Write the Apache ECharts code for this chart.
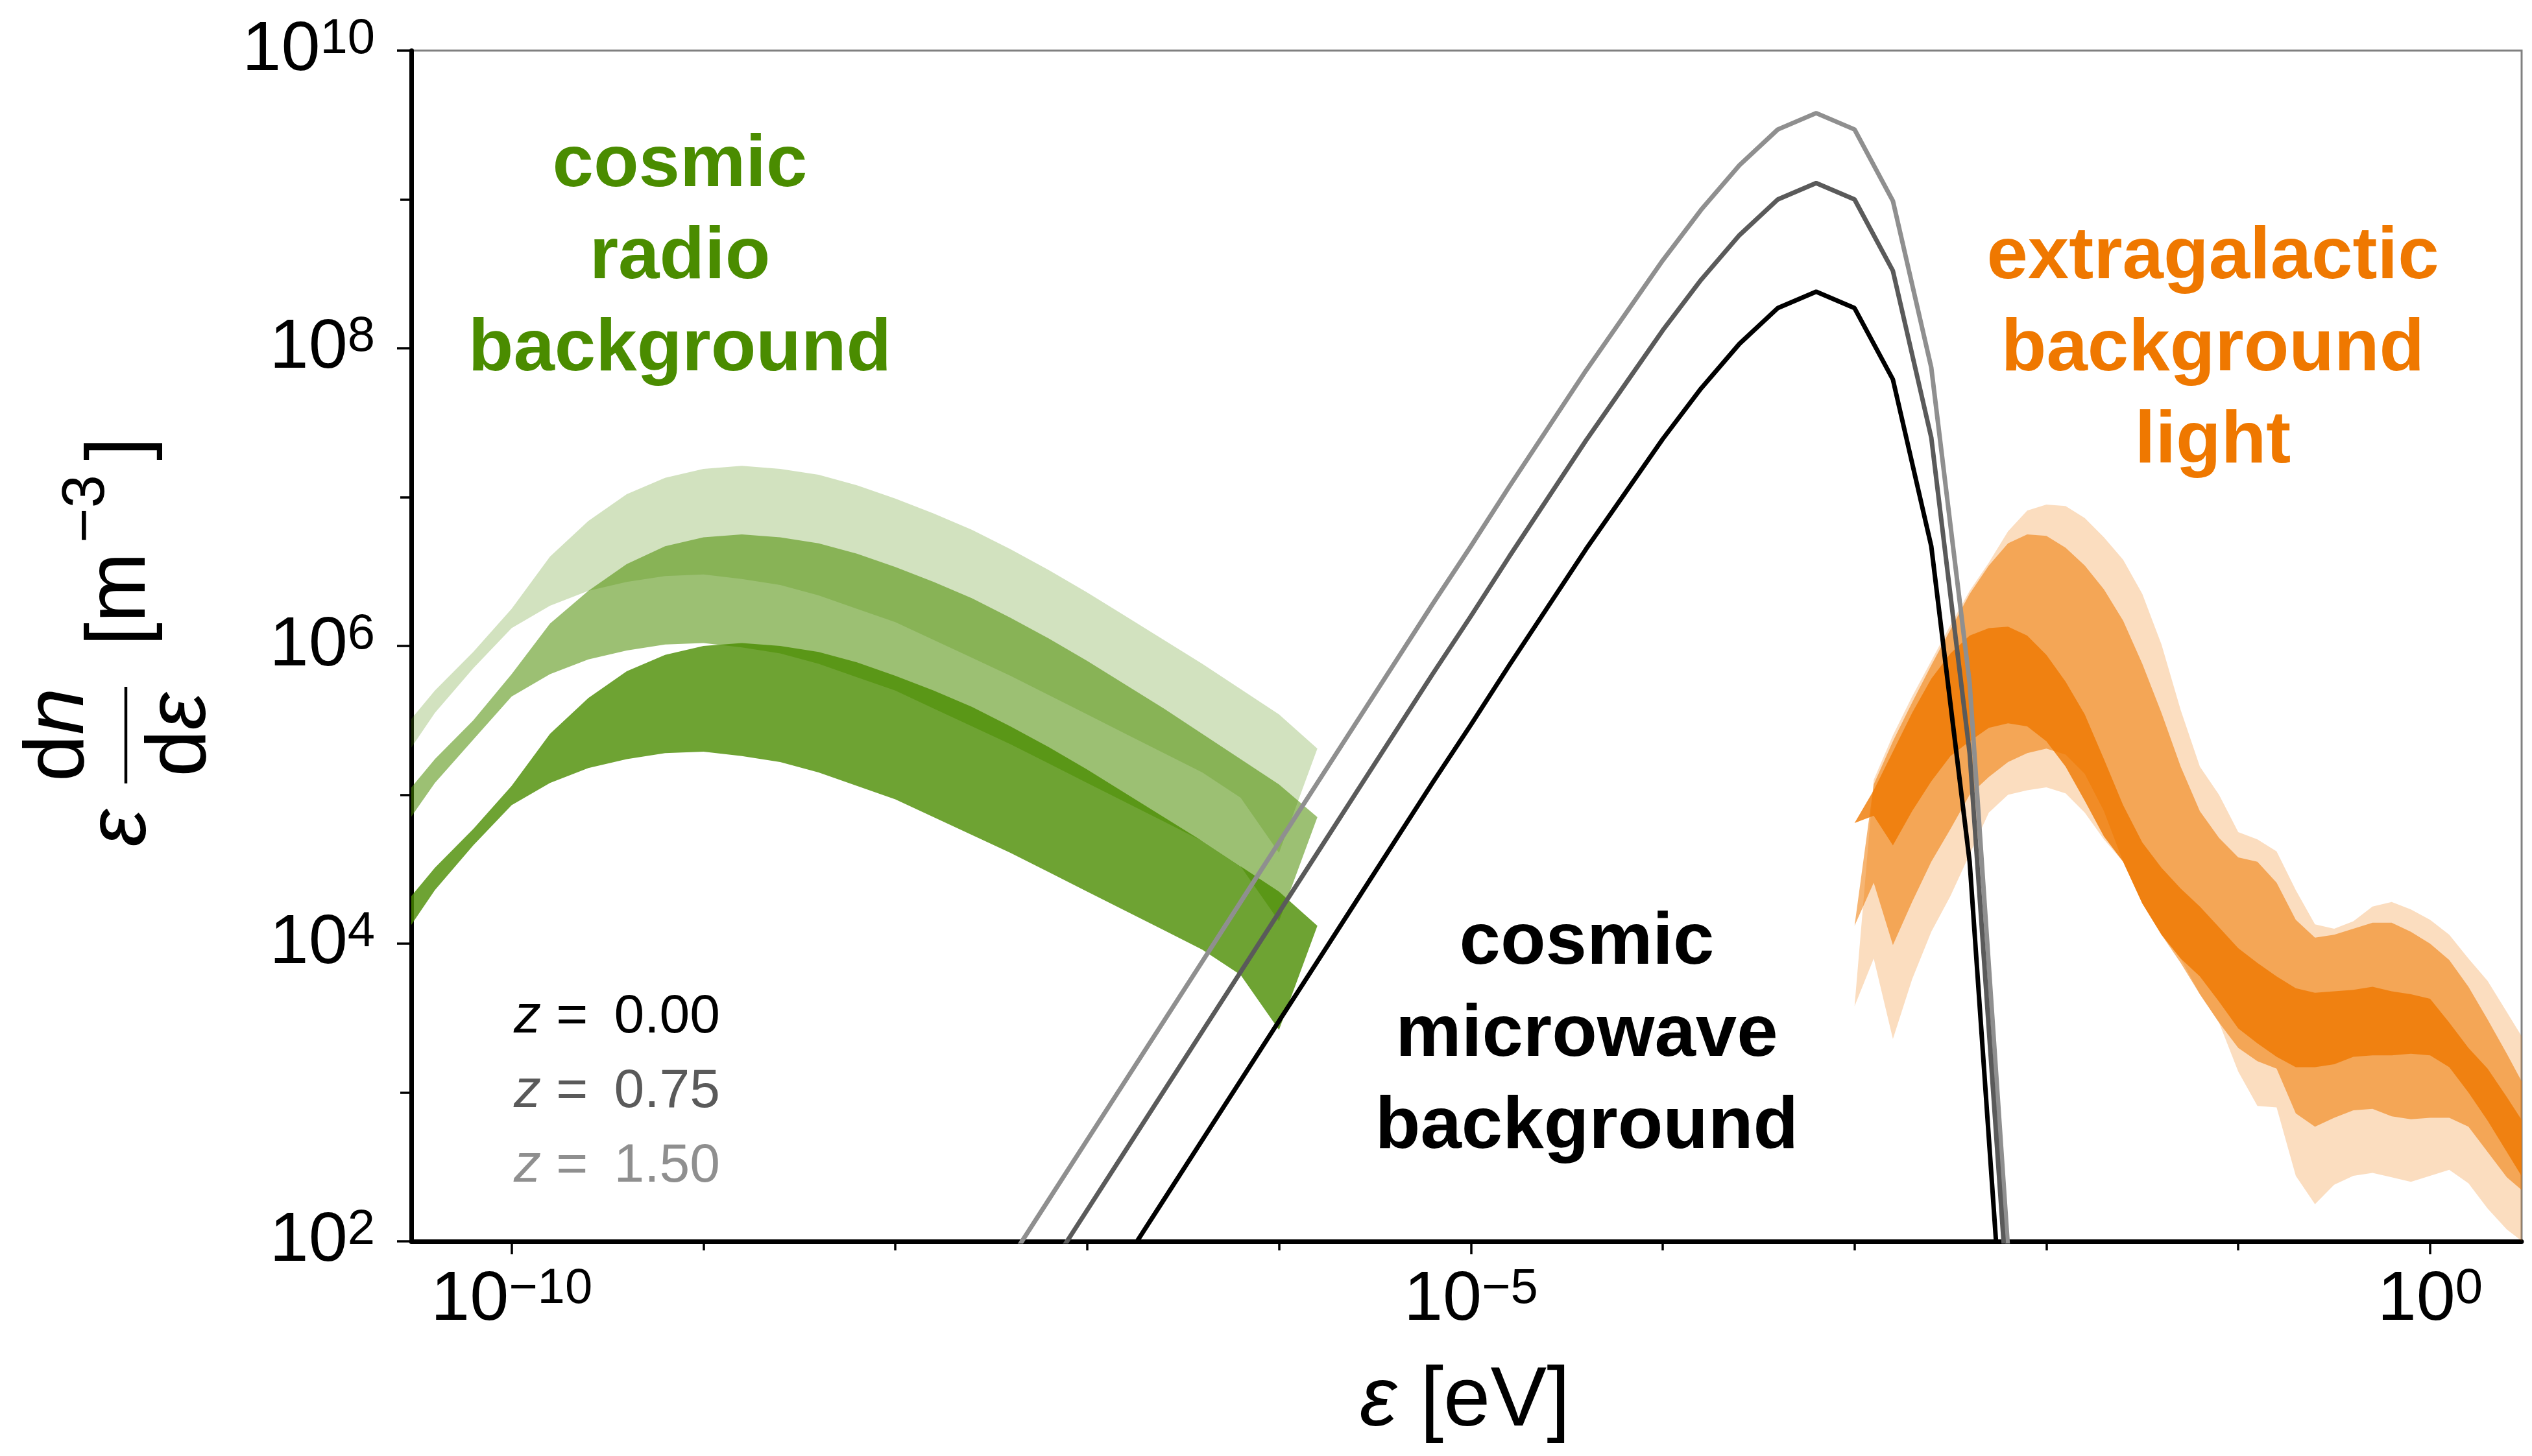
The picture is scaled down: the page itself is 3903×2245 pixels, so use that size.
<!DOCTYPE html>
<html>
  <head>
    <meta charset="utf-8" />
    <title>Photon backgrounds</title>
    <script src="https://cdn.jsdelivr.net/npm/echarts@6.0.0/dist/echarts.min.js"></script>
    <style>
      html, body { margin: 0; padding: 0; background: #fff; }
    </style>
  </head>
  <body>
    <div id="main" style="width: 3903px; height: 2245px"></div>

    <script>
      // all values are log10: energy in eV, eps*dn/deps in m^-3

      // cosmic radio background, bands for z = 0, 0.75, 1.5
      var crbLogE = [-10.6, -10.4, -10.2, -10.0, -9.8, -9.6, -9.4, -9.2, -9.0, -8.8, -8.6, -8.4, -8.2,
                     -8.0, -7.8, -7.6, -7.4, -7.2, -7.0, -6.8, -6.6, -6.4, -6.2, -6.0, -5.8];
      var crbZ0Lo = [3.98, 4.36, 4.66, 4.93, 5.08, 5.18, 5.24, 5.28, 5.29, 5.26, 5.22, 5.15, 5.06,
                     4.97, 4.85, 4.73, 4.61, 4.48, 4.35, 4.22, 4.09, 3.96, 3.79, 3.42, 4.12];
      var crbZ0Hi = [4.20, 4.51, 4.77, 5.06, 5.41, 5.65, 5.83, 5.94, 6.00, 6.02, 6.00, 5.96, 5.89,
                     5.80, 5.70, 5.59, 5.46, 5.32, 5.17, 5.01, 4.85, 4.69, 4.52, 4.35, 4.12];
      var crbZ075Lo = [4.71, 5.08, 5.37, 5.66, 5.81, 5.91, 5.97, 6.01, 6.02, 5.99, 5.95, 5.88, 5.79,
                       5.70, 5.58, 5.46, 5.34, 5.21, 5.08, 4.95, 4.82, 4.69, 4.52, 4.15, 4.85];
      var crbZ075Hi = [4.93, 5.24, 5.50, 5.81, 6.15, 6.37, 6.55, 6.67, 6.73, 6.75, 6.73, 6.69, 6.62,
                       6.53, 6.43, 6.32, 6.19, 6.05, 5.90, 5.74, 5.58, 5.41, 5.24, 5.07, 4.85];
      var crbZ15Lo = [5.17, 5.55, 5.85, 6.12, 6.27, 6.37, 6.43, 6.47, 6.48, 6.45, 6.41, 6.34, 6.25,
                      6.16, 6.04, 5.92, 5.80, 5.67, 5.54, 5.41, 5.28, 5.15, 4.98, 4.61, 5.31];
      var crbZ15Hi = [5.39, 5.70, 5.96, 6.25, 6.60, 6.84, 7.02, 7.13, 7.19, 7.21, 7.19, 7.15, 7.08,
                      6.99, 6.89, 6.78, 6.65, 6.51, 6.36, 6.20, 6.04, 5.88, 5.71, 5.54, 5.31];

      // cosmic microwave background
      var cmbLogE = [-7.4, -7.2, -7.0, -6.8, -6.6, -6.4, -6.2, -6.0, -5.8, -5.6, -5.4, -5.2, -5.0, -4.8,
                     -4.6, -4.4, -4.2, -4.0, -3.8, -3.6, -3.4, -3.2, -3.0, -2.8, -2.6, -2.4, -2.2];
      var cmbZ0 = [0.68, 1.08, 1.48, 1.88, 2.28, 2.68, 3.08, 3.48, 3.88, 4.28, 4.68, 5.08, 5.47, 5.87,
                   6.26, 6.65, 7.02, 7.39, 7.73, 8.03, 8.27, 8.38, 8.27, 7.79, 6.67, 4.55, 0.84];
      var cmbZ075 = [1.41, 1.81, 2.21, 2.61, 3.01, 3.41, 3.81, 4.21, 4.61, 5.01, 5.41, 5.81, 6.20, 6.60,
                     6.99, 7.38, 7.75, 8.12, 8.46, 8.76, 9.00, 9.11, 9.00, 8.52, 7.40, 5.28, 1.57];
      var cmbZ15 = [1.88, 2.28, 2.68, 3.08, 3.48, 3.88, 4.28, 4.68, 5.08, 5.48, 5.88, 6.28, 6.67, 7.07,
                    7.46, 7.85, 8.22, 8.59, 8.93, 9.23, 9.47, 9.58, 9.47, 8.99, 7.87, 5.75, 1.95];

      // extragalactic background light
      var eblLogE = [-3.0, -2.9, -2.8, -2.7, -2.6, -2.5, -2.4, -2.3, -2.2, -2.1, -2.0, -1.9, -1.8, -1.7,
                     -1.6, -1.5, -1.4, -1.3, -1.2, -1.1, -1.0, -0.9, -0.8, -0.7, -0.6, -0.5, -0.4, -0.3,
                     -0.2, -0.1, 0.0, 0.1, 0.2, 0.3, 0.4, 0.5];
      var eblZ0Lo = [4.81, 4.86, 4.66, 4.89, 5.09, 5.26, 5.36, 5.45, 5.48, 5.46, 5.36, 5.19, 4.96, 4.72,
                     4.55, 4.27, 4.06, 3.90, 3.78, 3.61, 3.43, 3.33, 3.24, 3.17, 3.17, 3.19, 3.24, 3.25,
                     3.25, 3.26, 3.25, 3.17, 3.00, 2.81, 2.60, 2.39];
      var eblZ0Hi = [4.81, 5.03, 5.29, 5.55, 5.78, 5.95, 6.07, 6.12, 6.13, 6.07, 5.94, 5.76, 5.54, 5.24,
                     4.93, 4.68, 4.51, 4.37, 4.25, 4.11, 3.97, 3.87, 3.78, 3.70, 3.67, 3.68, 3.69, 3.71,
                     3.68, 3.66, 3.63, 3.47, 3.30, 3.16, 2.97, 2.77];
      var eblZ075Lo = [4.12, 4.41, 3.99, 4.28, 4.55, 4.77, 5.00, 5.12, 5.22, 5.28, 5.31, 5.27, 5.14, 4.89,
                       4.55, 4.27, 4.06, 3.87, 3.66, 3.47, 3.30, 3.21, 3.16, 2.86, 2.77, 2.83, 2.88, 2.89,
                       2.84, 2.82, 2.83, 2.83, 2.77, 2.60, 2.43, 2.32];
      var eblZ075Hi = [4.12, 5.07, 5.36, 5.62, 5.87, 6.11, 6.35, 6.54, 6.69, 6.75, 6.74, 6.66, 6.54, 6.38,
                       6.17, 5.88, 5.55, 5.19, 4.89, 4.71, 4.58, 4.55, 4.41, 4.16, 4.04, 4.06, 4.10, 4.14,
                       4.14, 4.08, 4.00, 3.89, 3.71, 3.49, 3.26, 3.02];
      var eblZ15Lo = [3.58, 3.90, 3.36, 3.76, 4.08, 4.32, 4.60, 4.88, 5.00, 5.03, 5.05, 5.01, 4.88, 4.70,
                      4.55, 4.27, 4.06, 3.90, 3.66, 3.47, 3.14, 2.91, 2.90, 2.44, 2.25, 2.38, 2.44, 2.46,
                      2.43, 2.40, 2.44, 2.48, 2.39, 2.22, 2.08, 1.98];
      var eblZ15Hi = [3.58, 5.10, 5.40, 5.66, 5.90, 6.14, 6.37, 6.56, 6.77, 6.91, 6.95, 6.94, 6.86, 6.73,
                      6.58, 6.35, 6.01, 5.57, 5.19, 5.00, 4.75, 4.70, 4.62, 4.36, 4.13, 4.10, 4.15, 4.25,
                      4.28, 4.23, 4.16, 4.06, 3.90, 3.75, 3.54, 3.33];

      // ticks and labels
      var xTicks = [1e-10, 1e-9, 1e-8, 1e-7, 1e-6, 1e-5, 1e-4, 1e-3, 1e-2, 1e-1, 1];
      var xLabels = [1e-10, 1e-5, 1];
      var yTicks = [1e2, 1e3, 1e4, 1e5, 1e6, 1e7, 1e8, 1e9, 1e10];
      var yLabels = [1e2, 1e4, 1e6, 1e8, 1e10];
      var zLabels = ["0.00", "0.75", "1.50"];
      var zColors = ["#000000", "#5a5a5a", "#8f8f8f"];

      var FONT = '"Liberation Sans", Arial, sans-serif';
      var GREEN = "74,140,0";
      var ORANGE = "239,120,0";
      var ALPHA = [0.8, 0.55, 0.25];

      function pow10Label(v) {
        var e = Math.round(Math.log10(v));
        return "{b|10}{s|" + String(e).replace("-", "\u2212") + "}";
      }
      var labelRich = {
        b: { fontSize: 108, lineHeight: 110, fontFamily: FONT, color: "#000" },
        s: { fontSize: 76, lineHeight: 44, fontFamily: FONT, color: "#000", verticalAlign: "top" },
      };

      function bandSeries(logE, lo, hi, rgb, alpha) {
        return {
          type: "custom",
          silent: true,
          clip: true,
          data: logE.map(function (e, i) {
            return [Math.pow(10, e), Math.pow(10, lo[i]), Math.pow(10, hi[i])];
          }),
          encode: { x: 0, y: [1, 2] },
          renderItem: function (params, api) {
            if (params.dataIndex !== 0) return null;
            var n = params.dataInsideLength;
            var pts = [];
            for (var i = 0; i < n; i++) pts.push(api.coord([api.value(0, i), api.value(2, i)]));
            for (var j = n - 1; j >= 0; j--) pts.push(api.coord([api.value(0, j), api.value(1, j)]));
            return {
              type: "polygon",
              shape: { points: pts },
              style: { fill: "rgba(" + rgb + "," + alpha + ")" },
            };
          },
        };
      }

      function cmbSeries(vals, color) {
        return {
          type: "line",
          silent: true,
          clip: true,
          showSymbol: false,
          symbol: "none",
          data: cmbLogE.map(function (e, i) {
            return [Math.pow(10, e), Math.pow(10, vals[i])];
          }),
          lineStyle: { color: color, width: 7 },
          z: 5,
        };
      }

      function txt(x, y, text, color, size, extra) {
        var s = {
          text: text, fill: color, fontSize: size, fontFamily: FONT,
          align: "center", verticalAlign: "middle",
        };
        for (var k in extra) s[k] = extra[k];
        return { type: "text", x: x, y: y, style: s, z: 100 };
      }

      var italic = function (size) {
        return { fontSize: size, fontFamily: FONT, fontStyle: "italic", fill: "#000" };
      };

      var graphics = [
        txt(1048, 398, "cosmic\nradio\nbackground", "rgb(" + GREEN + ")", 114, { fontWeight: "bold", lineHeight: 142 }),
        txt(3411, 540, "extragalactic\nbackground\nlight", "rgb(" + ORANGE + ")", 114, { fontWeight: "bold", lineHeight: 142 }),
        txt(2446, 1597, "cosmic\nmicrowave\nbackground", "#000", 114, { fontWeight: "bold", lineHeight: 142 }),
        // x axis title
        txt(2258, 2162, "{i|\u03b5} [eV]", "#000", 130, { rich: { i: italic(130) } }),
        // y axis title, rotated
        {
          type: "group",
          x: 194,
          y: 1002,
          rotation: Math.PI / 2,
          z: 100,
          children: [
            txt(-275, -6.5, "\u03b5", "#000", 130, { fontStyle: "italic" }),
            { type: "line", shape: { x1: -206, y1: 0, x2: -57, y2: 0 }, style: { stroke: "#000", lineWidth: 4.5 } },
            txt(-131, -102, "d{i|n}", "#000", 130, { rich: { i: italic(130) } }),
            txt(-131, 86, "d{i|\u03b5}", "#000", 130, { rich: { i: italic(130) } }),
            txt(6, -6.5, "[m", "#000", 130, { align: "left" }),
            txt(165, -59, "\u22123", "#000", 92, { align: "left" }),
            txt(292, -6.5, "]", "#000", 130, { align: "left" }),
          ],
        },
      ];
      zLabels.forEach(function (z, i) {
        graphics.push(
          txt(792, 1569 + i * 115, "{i|z} = \u2009" + z, zColors[i], 84, {
            align: "left",
            rich: { i: { fontSize: 84, fontFamily: FONT, fontStyle: "italic", fill: zColors[i] } },
          })
        );
      });

      var myChart = echarts.init(document.getElementById("main"), null, { renderer: "canvas" });

      var option = {
        animation: false,
        backgroundColor: "#ffffff",
        grid: {
          left: 634, right: 16, top: 78, bottom: 331,
          show: true, borderColor: "#808080", borderWidth: 3, backgroundColor: "transparent",
        },
        xAxis: [
          {
            type: "log", logBase: 10, min: 3e-11, max: 3, position: "bottom",
            axisLine: { show: true, onZero: false, lineStyle: { color: "#000", width: 7 } },
            axisTick: { show: true, length: 14, customValues: xTicks, lineStyle: { color: "#000", width: 3.5 } },
            axisLabel: { customValues: xLabels, margin: 36, formatter: pow10Label, rich: labelRich },
            splitLine: { show: false },
          },
          {
            type: "log", logBase: 10, min: 3e-11, max: 3, position: "bottom",
            axisLine: { show: false },
            axisTick: { show: true, length: 20, customValues: xLabels, lineStyle: { color: "#000", width: 3.5 } },
            axisLabel: { show: false },
            splitLine: { show: false },
          },
        ],
        yAxis: [
          {
            type: "log", logBase: 10, min: 1e2, max: 1e10, position: "left",
            axisLine: { show: true, onZero: false, lineStyle: { color: "#000", width: 7 } },
            axisTick: { show: true, length: 17, customValues: yTicks, lineStyle: { color: "#000", width: 3.5 } },
            axisLabel: { customValues: yLabels, margin: 56, formatter: pow10Label, rich: labelRich },
            splitLine: { show: false },
          },
          {
            type: "log", logBase: 10, min: 1e2, max: 1e10, position: "left",
            axisLine: { show: false },
            axisTick: { show: true, length: 22, customValues: yLabels, lineStyle: { color: "#000", width: 3.5 } },
            axisLabel: { show: false },
            splitLine: { show: false },
          },
        ],
        series: [
          bandSeries(crbLogE, crbZ15Lo, crbZ15Hi, GREEN, ALPHA[2]),
          bandSeries(crbLogE, crbZ075Lo, crbZ075Hi, GREEN, ALPHA[1]),
          bandSeries(crbLogE, crbZ0Lo, crbZ0Hi, GREEN, ALPHA[0]),
          bandSeries(eblLogE, eblZ15Lo, eblZ15Hi, ORANGE, ALPHA[2]),
          bandSeries(eblLogE, eblZ075Lo, eblZ075Hi, ORANGE, ALPHA[1]),
          bandSeries(eblLogE, eblZ0Lo, eblZ0Hi, ORANGE, ALPHA[0]),
          cmbSeries(cmbZ15, zColors[2]),
          cmbSeries(cmbZ075, zColors[1]),
          cmbSeries(cmbZ0, zColors[0]),
        ],
        graphic: graphics,
      };

      myChart.setOption(option);
    </script>
  </body>
</html>
